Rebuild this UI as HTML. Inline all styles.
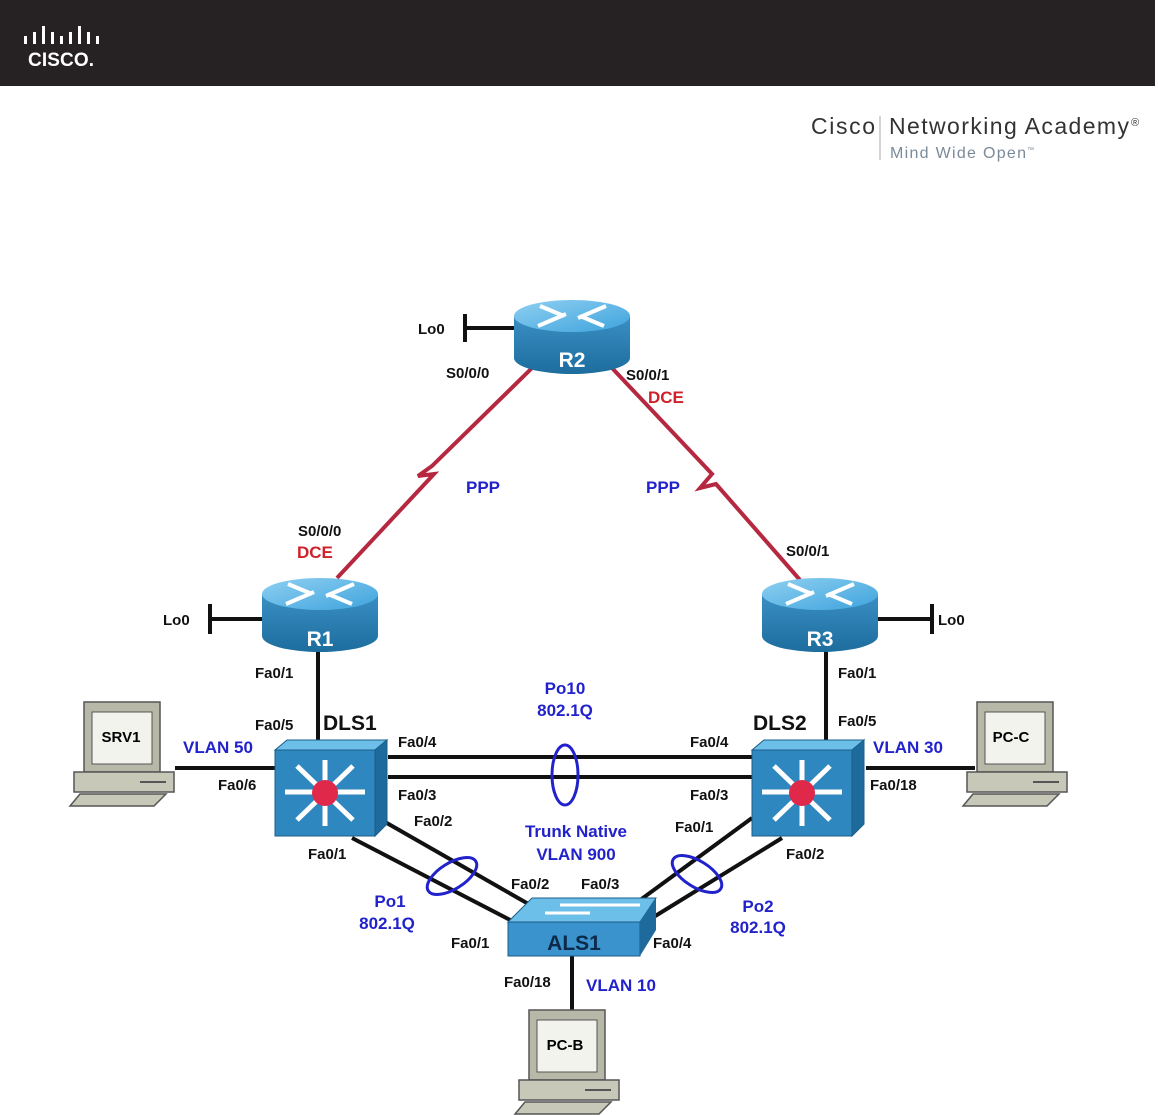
<!DOCTYPE html>
<html><head><meta charset="utf-8"><style>
body{margin:0;background:#fff;width:1158px;height:1115px;overflow:hidden}
svg{display:block}
text{font-family:"Liberation Sans",Arial,sans-serif;font-weight:bold}
.p{font-size:15px;fill:#111}
.b{font-size:17px;fill:#2222cc}
.r{font-size:17px;fill:#d0202a}
.n{font-size:21px;fill:#111}
</style></head><body>
<svg width="1158" height="1115" viewBox="0 0 1158 1115">
<defs>
<linearGradient id="rb" x1="0" x2="0" y1="0" y2="1"><stop offset="0" stop-color="#3a8fc4"/><stop offset="1" stop-color="#1d6d9e"/></linearGradient>
<linearGradient id="rt" x1="0" x2="1" y1="0" y2="1"><stop offset="0" stop-color="#8fd0f2"/><stop offset="1" stop-color="#3ea3dc"/></linearGradient>
<g id="router">
<path d="M0,16 L0,58 A58,16 0 0 0 116,58 L116,16 Z" fill="url(#rb)"/>
<ellipse cx="58" cy="16" rx="58" ry="16" fill="url(#rt)"/>
<g stroke="#fff" stroke-width="4" fill="#fff">
<line x1="24" y1="26" x2="52" y2="14"/><line x1="64" y1="18" x2="92" y2="6"/>
<line x1="26" y1="6" x2="50" y2="16"/><line x1="66" y1="16" x2="90" y2="26"/>
</g>
</g>
<g id="pc">
<rect x="14" y="0" width="76" height="70" fill="#b8b8a8" stroke="#555" stroke-width="1.5"/>
<rect x="22" y="10" width="60" height="52" fill="#f3f3ee" stroke="#555"/>
<rect x="4" y="70" width="100" height="20" fill="#c8c8b8" stroke="#555" stroke-width="1.5"/>
<line x1="70" y1="80" x2="96" y2="80" stroke="#555" stroke-width="2"/>
<path d="M10,92 L96,92 L84,104 L0,104 Z" fill="#c8c8b8" stroke="#555" stroke-width="1.5"/>
</g>
<g id="l3">
<rect x="0" y="10" width="100" height="86" fill="#2f87c0" stroke="#1b5e8a"/>
<path d="M0,10 L12,0 L112,0 L100,10 Z" fill="#6cbfe8" stroke="#1b5e8a"/>
<path d="M100,10 L112,0 L112,84 L100,96 Z" fill="#1f6a9c" stroke="#1b5e8a"/>
<g stroke="#fff" stroke-width="5">
<line x1="50" y1="20" x2="50" y2="86"/><line x1="10" y1="52" x2="90" y2="52"/>
<line x1="22" y1="26" x2="78" y2="80"/><line x1="78" y1="26" x2="22" y2="80"/>
</g>
<circle cx="50" cy="53" r="13" fill="#e0284a"/>
</g>
</defs>
<rect x="0" y="0" width="1155" height="86" fill="#262223"/>
<g fill="#fff">
<rect x="24" y="36" width="3" height="8"/><rect x="33" y="32" width="3" height="12"/><rect x="42" y="26" width="3" height="18"/><rect x="51" y="32" width="3" height="12"/><rect x="60" y="36" width="3" height="8"/><rect x="69" y="32" width="3" height="12"/><rect x="78" y="26" width="3" height="18"/><rect x="87" y="32" width="3" height="12"/><rect x="96" y="36" width="3" height="8"/>
</g>
<text x="28" y="66" style="font-size:19px;fill:#fff" textLength="66">CISCO.</text>
<text x="811" y="134" style="font-size:23px;font-weight:normal;fill:#333" textLength="64">Cisco</text>
<line x1="880" y1="116" x2="880" y2="160" stroke="#aaa"/>
<text x="889" y="134" style="font-size:23px;font-weight:normal;fill:#333" textLength="240">Networking Academy</text>
<text x="1131" y="126" style="font-size:11px;font-weight:normal;fill:#333">®</text>
<text x="890" y="158" style="font-size:16px;font-weight:normal;fill:#7a8a99" textLength="136">Mind Wide Open</text>
<text x="1027" y="152" style="font-size:7px;font-weight:normal;fill:#7a8a99">™</text>

<g stroke="#b52840" stroke-width="4" fill="none">
<polyline points="532,368 432,466 418,476 434,474 337,578"/>
<polyline points="612,368 712,474 700,488 716,484 800,580"/>
</g>
<g stroke="#111" stroke-width="4">
<line x1="465" y1="328" x2="514" y2="328"/><line x1="465" y1="314" x2="465" y2="342"/>
<line x1="210" y1="619" x2="262" y2="619"/><line x1="210" y1="604" x2="210" y2="634"/>
<line x1="878" y1="619" x2="932" y2="619"/><line x1="932" y1="604" x2="932" y2="634"/>
<line x1="318" y1="650" x2="318" y2="742"/><line x1="826" y1="650" x2="826" y2="742"/>
<line x1="388" y1="757" x2="752" y2="757"/><line x1="388" y1="777" x2="752" y2="777"/>
<line x1="175" y1="768" x2="275" y2="768"/><line x1="866" y1="768" x2="975" y2="768"/>
<line x1="378" y1="818" x2="532" y2="906"/><line x1="352" y1="838" x2="514" y2="922"/>
<line x1="752" y1="818" x2="632" y2="906"/><line x1="782" y1="838" x2="652" y2="918"/>
<line x1="572" y1="955" x2="572" y2="1012"/>
</g>
<g stroke="#2222cc" stroke-width="3" fill="none">
<ellipse cx="565" cy="775" rx="13" ry="30"/>
<ellipse cx="452" cy="876" rx="13" ry="28" transform="rotate(58 452 876)"/>
<ellipse cx="697" cy="874" rx="13" ry="28" transform="rotate(-58 697 874)"/>
</g>
<use href="#router" x="514" y="300"/>
<use href="#router" x="262" y="578"/>
<use href="#router" x="762" y="578"/>
<text x="572" y="367" text-anchor="middle" class="n" style="fill:#fff">R2</text>
<text x="320" y="646" text-anchor="middle" class="n" style="fill:#fff">R1</text>
<text x="820" y="646" text-anchor="middle" class="n" style="fill:#fff">R3</text>
<use href="#l3" x="275" y="740"/>
<use href="#l3" x="752" y="740"/>
<path d="M508,922 L532,898 L656,898 L640,922 Z" fill="#6cbfe8" stroke="#1b5e8a"/>
<rect x="508" y="922" width="132" height="34" fill="#3a93cc" stroke="#1b5e8a"/>
<path d="M640,922 L656,898 L656,930 L640,956 Z" fill="#1f6a9c"/>
<g stroke="#fff" stroke-width="3"><line x1="545" y1="913" x2="590" y2="913"/><line x1="560" y1="905" x2="640" y2="905"/></g>
<text x="574" y="950" text-anchor="middle" class="n" style="fill:#0d2a4a">ALS1</text>
<use href="#pc" x="70" y="702"/>
<use href="#pc" x="963" y="702"/>
<use href="#pc" x="515" y="1010"/>
<text x="121" y="742" text-anchor="middle" style="font-size:15px">SRV1</text>
<text x="1011" y="742" text-anchor="middle" style="font-size:15px">PC-C</text>
<text x="565" y="1050" text-anchor="middle" style="font-size:15px">PC-B</text>

<text x="418" y="334" class="p">Lo0</text>
<text x="446" y="378" class="p">S0/0/0</text>
<text x="626" y="380" class="p">S0/0/1</text>
<text x="648" y="403" class="r">DCE</text>
<text x="466" y="493" class="b">PPP</text>
<text x="646" y="493" class="b">PPP</text>
<text x="298" y="536" class="p">S0/0/0</text>
<text x="297" y="558" class="r">DCE</text>
<text x="786" y="556" class="p">S0/0/1</text>
<text x="163" y="625" class="p">Lo0</text>
<text x="938" y="625" class="p">Lo0</text>
<text x="255" y="678" class="p">Fa0/1</text>
<text x="838" y="678" class="p">Fa0/1</text>
<text x="255" y="730" class="p">Fa0/5</text>
<text x="838" y="726" class="p">Fa0/5</text>
<text x="323" y="730" class="n">DLS1</text>
<text x="753" y="730" class="n">DLS2</text>
<text x="565" y="694" text-anchor="middle" class="b">Po10</text>
<text x="565" y="716" text-anchor="middle" class="b">802.1Q</text>
<text x="183" y="753" class="b">VLAN 50</text>
<text x="873" y="753" class="b">VLAN 30</text>
<text x="218" y="790" class="p">Fa0/6</text>
<text x="870" y="790" class="p">Fa0/18</text>
<text x="398" y="747" class="p">Fa0/4</text>
<text x="690" y="747" class="p">Fa0/4</text>
<text x="398" y="800" class="p">Fa0/3</text>
<text x="690" y="800" class="p">Fa0/3</text>
<text x="414" y="826" class="p">Fa0/2</text>
<text x="675" y="832" class="p">Fa0/1</text>
<text x="576" y="837" text-anchor="middle" class="b">Trunk Native</text>
<text x="576" y="860" text-anchor="middle" class="b">VLAN 900</text>
<text x="308" y="859" class="p">Fa0/1</text>
<text x="786" y="859" class="p">Fa0/2</text>
<text x="511" y="889" class="p">Fa0/2</text>
<text x="581" y="889" class="p">Fa0/3</text>
<text x="390" y="907" text-anchor="middle" class="b">Po1</text>
<text x="387" y="929" text-anchor="middle" class="b">802.1Q</text>
<text x="758" y="912" text-anchor="middle" class="b">Po2</text>
<text x="758" y="933" text-anchor="middle" class="b">802.1Q</text>
<text x="451" y="948" class="p">Fa0/1</text>
<text x="653" y="948" class="p">Fa0/4</text>
<text x="504" y="987" class="p">Fa0/18</text>
<text x="586" y="991" class="b">VLAN 10</text>
</svg>
</body></html>
